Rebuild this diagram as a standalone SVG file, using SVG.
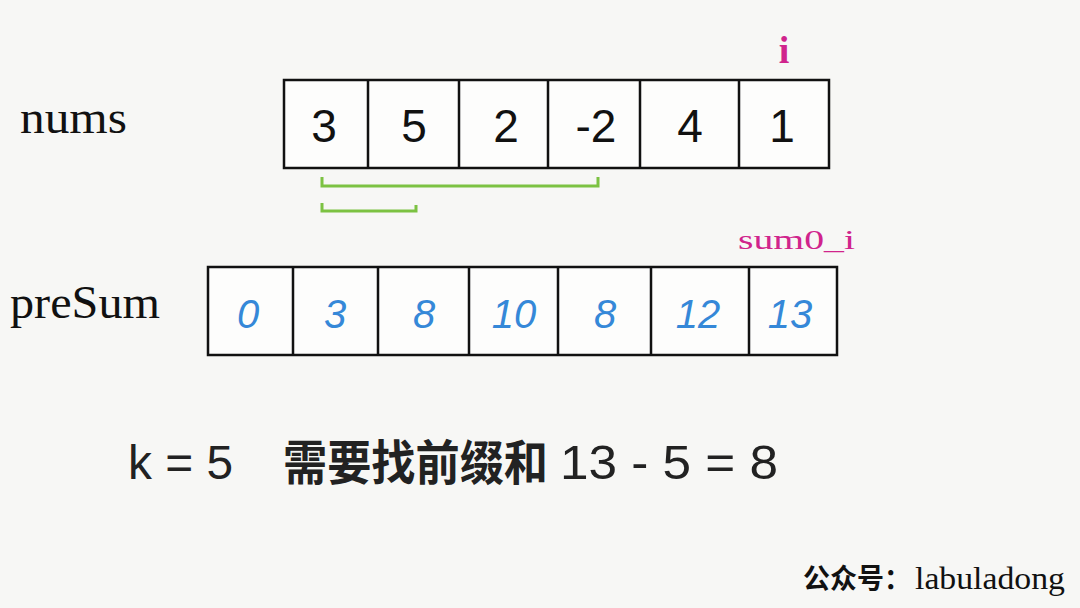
<svg xmlns="http://www.w3.org/2000/svg" width="1080" height="608" viewBox="0 0 1080 608">
<style>
.cell{fill:#fdfdfc;stroke:#111;stroke-width:2.5}
.blk{font-family:"Liberation Sans",sans-serif;font-size:46px;fill:#111;text-anchor:middle}
.blu{font-family:"Liberation Sans",sans-serif;font-size:40px;fill:#3588d8;text-anchor:middle;font-style:italic}
.lbl{font-family:"Liberation Serif",serif;fill:#111}
.mag{font-family:"Liberation Serif",serif;fill:#d0248c}
.br{fill:none;stroke:#7cc242;stroke-width:3}
.f{font-family:"Liberation Sans","Noto Sans CJK SC",sans-serif;font-size:48px;fill:#222}
</style>
<rect width="1080" height="608" fill="#f7f7f5"/>
<g id="nums-label"><text class="lbl" x="20" y="133" font-size="46" textLength="107" lengthAdjust="spacingAndGlyphs">nums</text></g>
<g id="presum-label"><text class="lbl" x="10" y="318" font-size="46" textLength="150" lengthAdjust="spacingAndGlyphs">preSum</text></g>
<g id="nums">
<rect class="cell" x="284" y="80" width="545" height="88"/>
<path d="M368 80V168M459 80V168M548 80V168M640 80V168M739 80V168" stroke="#111" stroke-width="2.5"/>
<text class="blk" x="324" y="142">3</text>
<text class="blk" x="414" y="142">5</text>
<text class="blk" x="506" y="142">2</text>
<text class="blk" x="596" y="142">-2</text>
<text class="blk" x="690" y="142">4</text>
<text class="blk" x="782" y="142">1</text>
</g>
<g id="i-label"><text class="mag" x="784" y="63" font-size="38" font-weight="bold" text-anchor="middle">i</text></g>
<g id="brackets">
<path class="br" d="M322 177V186H598V177"/>
<path class="br" d="M322 203V211H416V205"/>
</g>
<g id="presum">
<rect class="cell" x="208" y="267" width="629" height="88"/>
<path d="M293 267V355M378 267V355M469 267V355M558 267V355M651 267V355M749 267V355" stroke="#111" stroke-width="2.5"/>
<text class="blu" x="248" y="328">0</text>
<text class="blu" x="335" y="328">3</text>
<text class="blu" x="424" y="328">8</text>
<text class="blu" x="514" y="328">10</text>
<text class="blu" x="605" y="328">8</text>
<text class="blu" x="698" y="328">12</text>
<text class="blu" x="790" y="328">13</text>
</g>
<g id="sum0-label"><text class="mag" x="738" y="249" font-size="28" textLength="117" lengthAdjust="spacingAndGlyphs">sum0_i</text></g>
<g id="formula">
<text class="f" x="128" y="479" textLength="105" lengthAdjust="spacingAndGlyphs">k = 5</text>
<text class="f" x="283" y="480" font-size="46" font-family="'Noto Sans CJK SC',sans-serif" font-weight="bold" textLength="265" lengthAdjust="spacingAndGlyphs">需要找前缀和</text>
<text class="f" x="560" y="479" textLength="218" lengthAdjust="spacingAndGlyphs">13 - 5 = 8</text>
</g>
<g id="footer">
<text x="803" y="589" font-size="28" fill="#111" font-family="'Noto Sans CJK SC',sans-serif" font-weight="bold" textLength="108" lengthAdjust="spacingAndGlyphs">公众号：</text>
<text x="915" y="589" font-size="32" fill="#111" font-family="'Liberation Serif',serif" textLength="150" lengthAdjust="spacingAndGlyphs">labuladong</text>
</g>
</svg>
